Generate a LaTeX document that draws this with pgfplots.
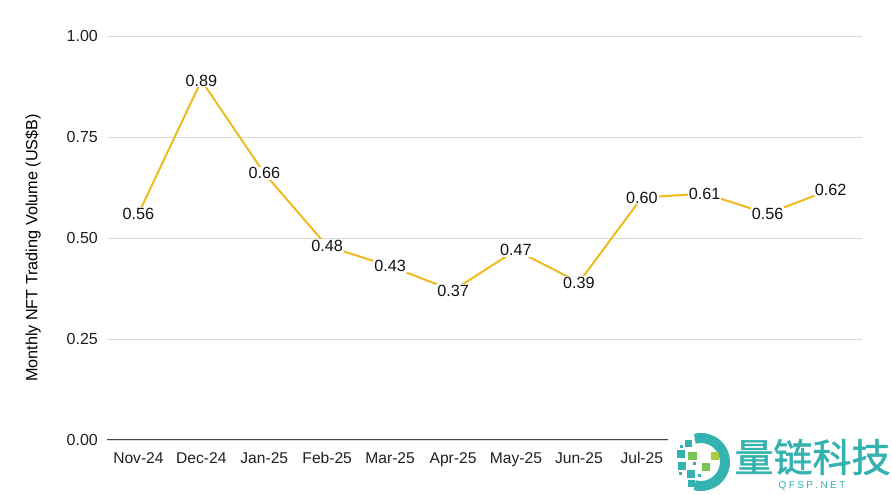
\documentclass[border=0pt]{standalone}
\usepackage{pgfplots}
\pgfplotsset{compat=1.18}
\usepackage{fontspec}
\setmainfont{Liberation Sans}
\newfontfamily\cjk[FakeBold=1.2]{Noto Sans CJK SC}
\definecolor{linegold}{RGB}{238,186,30}
\definecolor{gridgray}{RGB}{218,218,218}
\definecolor{axisgray}{RGB}{70,70,70}
\definecolor{wmteal}{RGB}{52,178,176}
\definecolor{wmgreen}{RGB}{120,196,90}
\definecolor{wmlight}{RGB}{165,205,70}
\begin{document}
\begin{tikzpicture}
\begin{axis}[
  scale only axis, width=755pt, height=404pt,
  xmin=-0.5, xmax=11.5, ymin=0, ymax=1,
  xtick={0,...,11},
  xticklabels={Nov-24,Dec-24,Jan-25,Feb-25,Mar-25,Apr-25,May-25,Jun-25,Jul-25,{},{},{}},
  ytick={0,0.25,0.5,0.75,1},
  yticklabel style={/pgf/number format/fixed, /pgf/number format/fixed zerofill, /pgf/number format/precision=2, /pgf/number format/assume math mode=true},
  yticklabel style={inner sep=0pt, xshift=-9pt, font=\fontsize{16}{19}\selectfont, text=black!88},
  xticklabel style={inner sep=0pt, yshift=-12pt, font=\fontsize{15.6}{18}\selectfont, text=black!88},
  major tick length=0pt, tick style={draw=none},
  ymajorgrids, grid style={gridgray, line width=0.8pt},
  axis x line*=bottom, axis y line*=left,
  x axis line style={axisgray, line width=1pt},
  y axis line style={draw=none},
  every axis y label/.style={at={(axis description cs:-0.098,0.475)}, anchor=center, rotate=90},
  ylabel={\fontsize{16.2}{19}\selectfont Monthly NFT Trading Volume (US\$B)},
  clip=false,
]
\addplot[linegold, line width=2pt,
  nodes near coords={\pgfmathprintnumber[fixed, fixed zerofill, precision=2, assume math mode=true]{\pgfplotspointmeta}},
  every node near coord/.style={anchor=center, fill=white, inner sep=1pt, text=black!92, font=\fontsize{16.2}{19}\selectfont},
] coordinates {
  (0,0.56) (1,0.89) (2,0.66) (3,0.48) (4,0.43) (5,0.37)
  (6,0.47) (7,0.39) (8,0.60) (9,0.61) (10,0.56) (11,0.62)
};
\end{axis}
\coordinate (O) at (current axis.south west);
\begin{scope}[shift={(O)}, xshift=-107pt, yshift=440pt, x=1pt, y=1pt]
  % watermark
  \fill[white] (668,-433) rectangle (892,-495);
  \draw[wmteal, line width=10pt] (701,-462) ++(105:24pt) arc[start angle=105, end angle=-105, radius=24pt];
  \fill[wmteal] (685,-440) rectangle ++(7,-7);
  \fill[wmteal] (680,-445) rectangle ++(3,-3);
  \fill[wmteal] (677,-450) rectangle ++(8,-8);
  \fill[wmgreen] (688,-452) rectangle ++(9,-8);
  \fill[wmlight] (711,-452) rectangle ++(8,-8);
  \fill[wmteal] (678,-462) rectangle ++(8,-8);
  \fill[wmteal] (693,-462) rectangle ++(3,-3);
  \fill[wmgreen] (702,-463) rectangle ++(8,-8);
  \fill[wmteal] (687,-470) rectangle ++(8,-8);
  \fill[wmteal] (679,-472) rectangle ++(3,-3);
  \fill[wmteal] (688,-480) rectangle ++(7,-7);
  \fill[wmteal] (698,-474) rectangle ++(3,-3);
  \node[anchor=center, text=wmteal, inner sep=0pt] at (812.5,-457) {\cjk\fontsize{39}{42}\selectfont 量链科技};
  \node[anchor=center, text=wmteal, inner sep=0pt] at (812,-486) {\fontsize{10}{12}\selectfont Q\hspace{2.4pt}F\hspace{2.4pt}S\hspace{2.4pt}P\hspace{2.4pt}.\hspace{2.4pt}N\hspace{2.4pt}E\hspace{2.4pt}T};
  \useasboundingbox (0,0) rectangle (892,-495);
\end{scope}
\end{tikzpicture}
\end{document}
